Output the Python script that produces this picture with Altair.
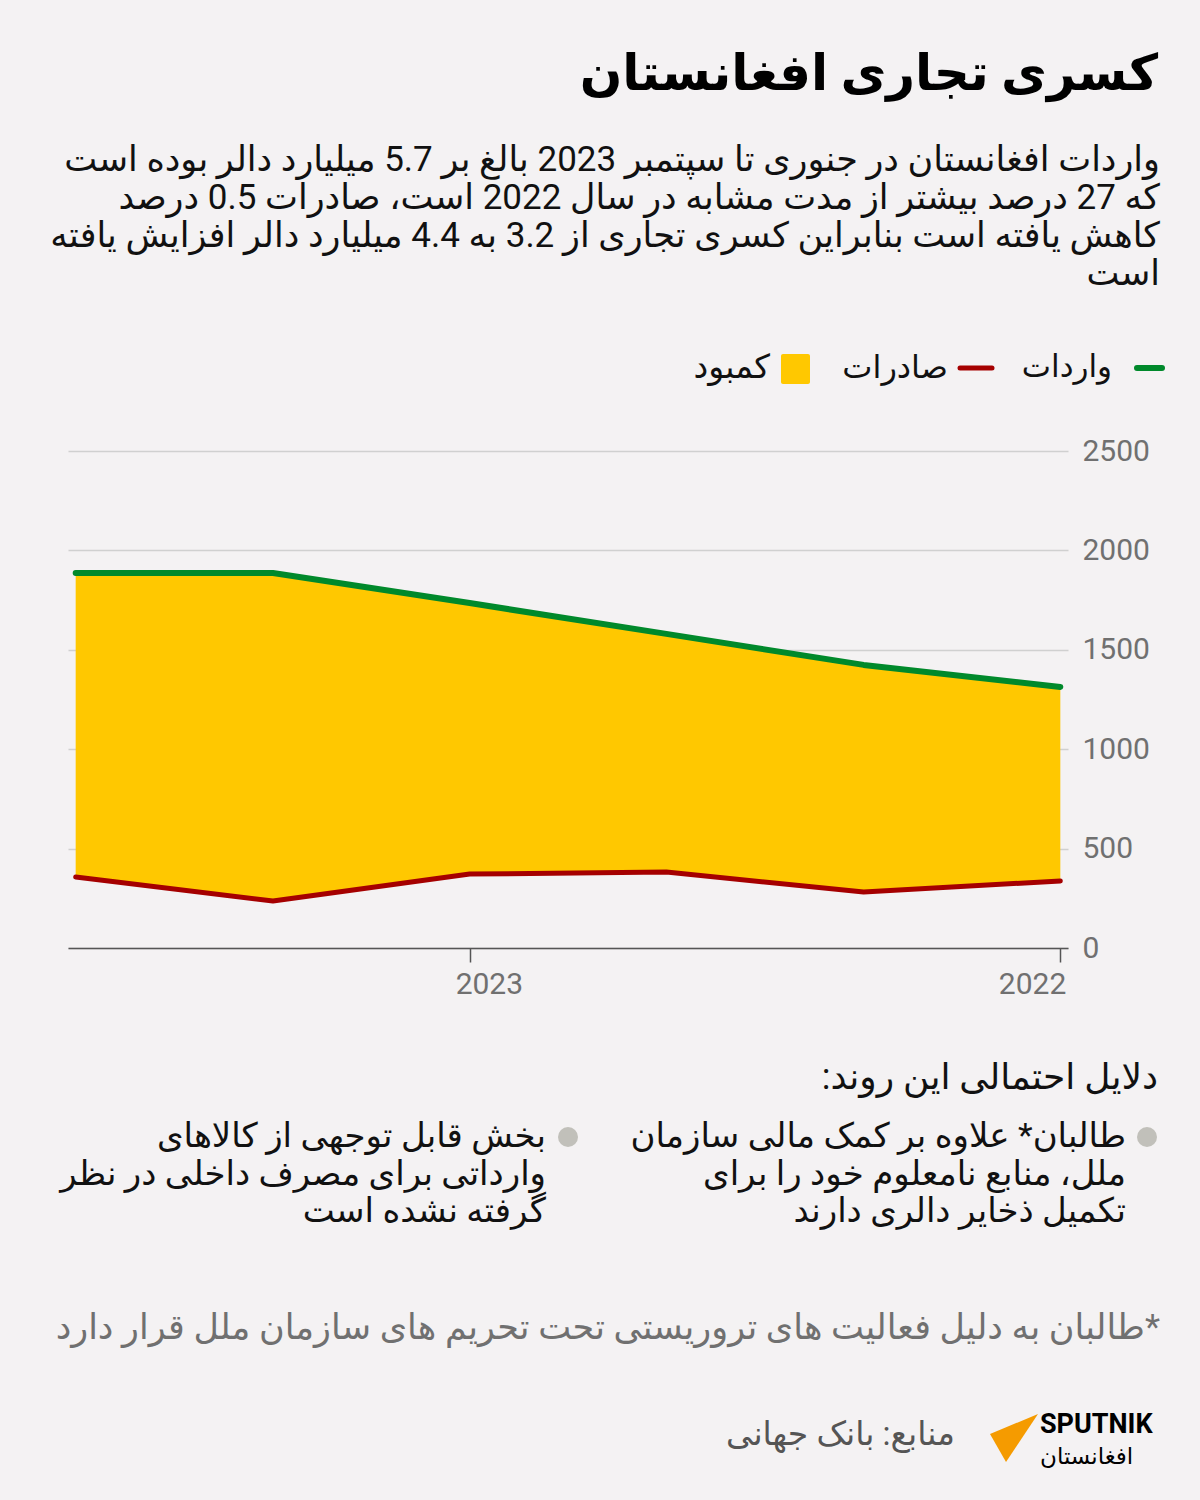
import altair as alt
import pandas as pd

# ---- data ----
periods = [2022.0, 2022.333, 2022.667, 2023.0, 2023.333, 2023.667]
imports = [1313, 1424, 1580, 1735, 1886, 1886]
exports = [337, 282, 382, 372, 236, 357]
tick_years = [2022, 2023]
tick_labels = ["2022", "2023"]
y_ticks = [0, 500, 1000, 1500, 2000, 2500]

title_text = "کسری تجاری افغانستان"
subtitle_lines = [
    "واردات افغانستان در جنوری تا سپتمبر 2023 بالغ بر 5.7 میلیارد دالر بوده است",
    "که 27 درصد بیشتر از مدت مشابه در سال 2022 است، صادرات 0.5 درصد",
    "کاهش یافته است بنابراین کسری تجاری از 3.2 به 4.4 میلیارد دالر افزایش یافته",
    "است",
]
legend_labels = ["واردات", "صادرات", "کمبود"]
reasons_title = "دلایل احتمالی این روند:\u200f"
reason1 = ["طالبان* علاوه بر کمک مالی سازمان", "ملل، منابع نامعلوم خود را برای", "تکمیل ذخایر دالری دارند"]
reason2 = ["بخش قابل توجهی از کالاهای", "وارداتی برای مصرف داخلی در نظر", "گرفته نشده است"]
footnote = "\u200f*طالبان به دلیل فعالیت های تروریستی تحت تحریم های سازمان ملل قرار دارد"
source = "منابع: بانک جهانی"
brand = "SPUTNIK"
brand_sub = "افغانستان"

GREEN = "#00892b"
RED = "#a50000"
YELLOW = "#ffc800"
BG = "#f4f2f3"
FONT = "Roboto, DejaVu Sans, sans-serif"

df = pd.DataFrame({"t": periods, "imports": imports, "exports": exports})
ticks_df = pd.DataFrame({"t": tick_years, "label": tick_labels})
one = pd.DataFrame({"a": [0]})

xscale = alt.Scale(domain=[2021.987, 2023.68], reverse=True, nice=False, zero=False)
yscale = alt.Scale(domain=[0, 2500], nice=False)

xenc = alt.X("t:Q", scale=xscale,
             axis=alt.Axis(values=tick_years, labels=False, grid=False, title=None,
                           domainColor="#555555", domainWidth=1.5, tickColor="#555555",
                           tickWidth=1.5, tickSize=14))

area = alt.Chart(df).mark_area(color=YELLOW, opacity=1).encode(
    x=xenc,
    y=alt.Y("exports:Q", scale=yscale,
            axis=alt.Axis(values=y_ticks, orient="right", grid=True, gridColor="#d0d0d0",
                          gridWidth=1.5, domain=False, ticks=False, labelPadding=14,
                          labelFontSize=30, labelColor="#707070", labelFont=FONT,
                          labelAlign="left", format="d", title=None)),
    y2="imports:Q",
)
line_imp = alt.Chart(df).mark_line(color=GREEN, strokeWidth=6, strokeCap="round", strokeJoin="round").encode(
    x="t:Q", y="imports:Q")
line_exp = alt.Chart(df).mark_line(color=RED, strokeWidth=5, strokeCap="round", strokeJoin="round").encode(
    x="t:Q", y="exports:Q")

tick_2022 = alt.Chart(ticks_df).transform_filter("datum.t == 2022").mark_text(
    align="right", dx=6, baseline="middle", fontSize=30, color="#707070", font=FONT
).encode(x="t:Q", y=alt.value(534), text="label:N")
tick_2023 = alt.Chart(ticks_df).transform_filter("datum.t == 2023").mark_text(
    align="left", dx=-14, baseline="middle", fontSize=30, color="#707070", font=FONT
).encode(x="t:Q", y=alt.value(534), text="label:N")


def txt(text, x, y, size, color="#111111", align="right", weight="normal", lh=None, baseline="middle"):
    kw = dict(text=text, align=align, baseline=baseline, fontSize=size, color=color,
              font=FONT, fontWeight=weight)
    if lh is not None:
        kw["lineHeight"] = lh
    return alt.Chart(one).mark_text(**kw).encode(x=alt.value(x), y=alt.value(y))


title = txt(title_text, 1090, -376, 50, color="#000000", weight="bold")
subtitle = txt(subtitle_lines, 1092, -291, 35, color="#111111", lh=38)

leg_green = alt.Chart(one).mark_rule(color=GREEN, strokeWidth=6, strokeCap="round").encode(
    x=alt.value(1069), x2=alt.value(1094), y=alt.value(-83))
leg_red = alt.Chart(one).mark_rule(color=RED, strokeWidth=5, strokeCap="round").encode(
    x=alt.value(892), x2=alt.value(924), y=alt.value(-83))
leg_yellow = alt.Chart(one).mark_rect(color=YELLOW, cornerRadius=2).encode(
    x=alt.value(713), x2=alt.value(742), y=alt.value(-97), y2=alt.value(-67))
leg_t1 = txt(legend_labels[0], 1044, -83, 31)
leg_t2 = txt(legend_labels[1], 880, -83, 32)
leg_t3 = txt(legend_labels[2], 702, -83, 33)

reasons_h = txt(reasons_title, 1090, 627, 36)
bul1 = alt.Chart(one).mark_circle(color="#c1c0ba", opacity=1, size=400).encode(
    x=alt.value(1079), y=alt.value(686))
bul2 = alt.Chart(one).mark_circle(color="#c1c0ba", opacity=1, size=400).encode(
    x=alt.value(500), y=alt.value(686))
r1 = txt(reason1, 1058, 686, 34, lh=37.5)
r2 = txt(reason2, 478, 686, 34, lh=37.5)

foot = txt(footnote, 1092, 877, 35, color="#707070")
src = txt(source, 887, 984, 33, color="#555555")
logo = alt.Chart(one).mark_point(
    shape="M 0.92 -0.92 L -1 -0.12 L -0.36 1 Z", filled=True, color="#f59b00",
    opacity=1, size=2500, strokeWidth=0
).encode(x=alt.value(947), y=alt.value(986))
brand_t = txt(brand, 972, 974, 27, color="#000000", align="left", weight="bold")
brand_s = txt(brand_sub, 972, 1006, 23, color="#000000", align="left")

chart = alt.layer(
    area, line_imp, line_exp, tick_2022, tick_2023,
    title, subtitle, leg_green, leg_red, leg_yellow, leg_t1, leg_t2, leg_t3,
    reasons_h, bul1, bul2, r1, r2, foot, src, logo, brand_t, brand_s,
).properties(
    width=1000, height=497,
    autosize=alt.AutoSizeParams(type="none"),
    padding={"left": 68, "top": 451, "right": 132, "bottom": 552},
    background=BG,
).configure_view(stroke=None)

chart.save("out.html", embed_options={"renderer": "svg", "actions": False})
